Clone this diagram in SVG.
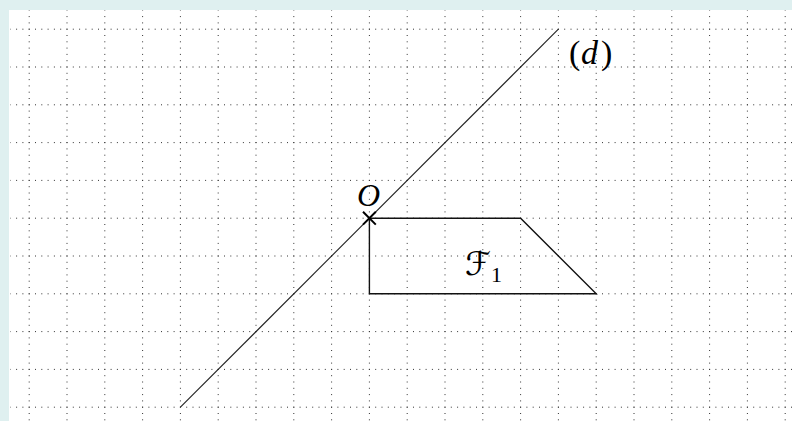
<svg xmlns="http://www.w3.org/2000/svg" width="792" height="421" viewBox="0 0 792 421">
<style>
.grid{fill:none;stroke:#333;stroke-width:1;stroke-dasharray:1 5.3;stroke-dashoffset:0.5}
.shape{fill:none;stroke:#111;stroke-width:1.4;stroke-linejoin:miter}
.dline{fill:none;stroke:#222;stroke-width:1.1}
.lbl{font-family:"Liberation Serif","Times New Roman",serif;fill:#000}
.it{font-style:italic}
</style>
<rect x="0" y="0" width="792" height="421" fill="#dff0f0"/>
<rect x="9" y="10" width="783" height="411" fill="#ffffff"/>
<g id="grid">
<path class="grid" d="M10.3 29.2H792M10.3 67H792M10.3 104.8H792M10.3 142.6H792M10.3 180.4H792M10.3 218.2H792M10.3 256H792M10.3 293.8H792M10.3 331.6H792M10.3 369.4H792M10.3 407.2H792"/>
<path class="grid" d="M29.2 10.3V421M67 10.3V421M104.8 10.3V421M142.6 10.3V421M180.4 10.3V421M218.2 10.3V421M256 10.3V421M293.8 10.3V421M331.6 10.3V421M369.4 10.3V421M407.2 10.3V421M445 10.3V421M482.8 10.3V421M520.6 10.3V421M558.4 10.3V421M596.2 10.3V421M634 10.3V421M671.8 10.3V421M709.6 10.3V421M747.4 10.3V421M785.2 10.3V421"/>
</g>
<g id="connectors">
<path id="line-d" class="dline" d="M180.4 407.2L558.4 29.2"/>
</g>
<g id="figure-F1">
<path class="shape" d="M369.4 218.2H520.6L596.2 293.8H369.4Z"/>
<text class="lbl it" x="465" y="275" style="font-size:33px;font-family:'DejaVu Serif','DejaVu Sans',serif">ℱ<tspan dy="7" style="font-size:22px;font-style:normal;font-family:'Liberation Serif',serif">1</tspan></text>
</g>
<g id="point-O">
<path d="M363 211.8L375.8 224.6M363 224.6L375.8 211.8" stroke="#000" stroke-width="2" fill="none"/>
<text class="lbl it" x="368.5" y="205.5" text-anchor="middle" style="font-size:32px">O</text>
</g>
<g id="label-d">
<text class="lbl" y="64" style="font-size:34px"><tspan x="569">(</tspan><tspan class="it" x="581">d</tspan><tspan x="601">)</tspan></text>
</g>
</svg>
